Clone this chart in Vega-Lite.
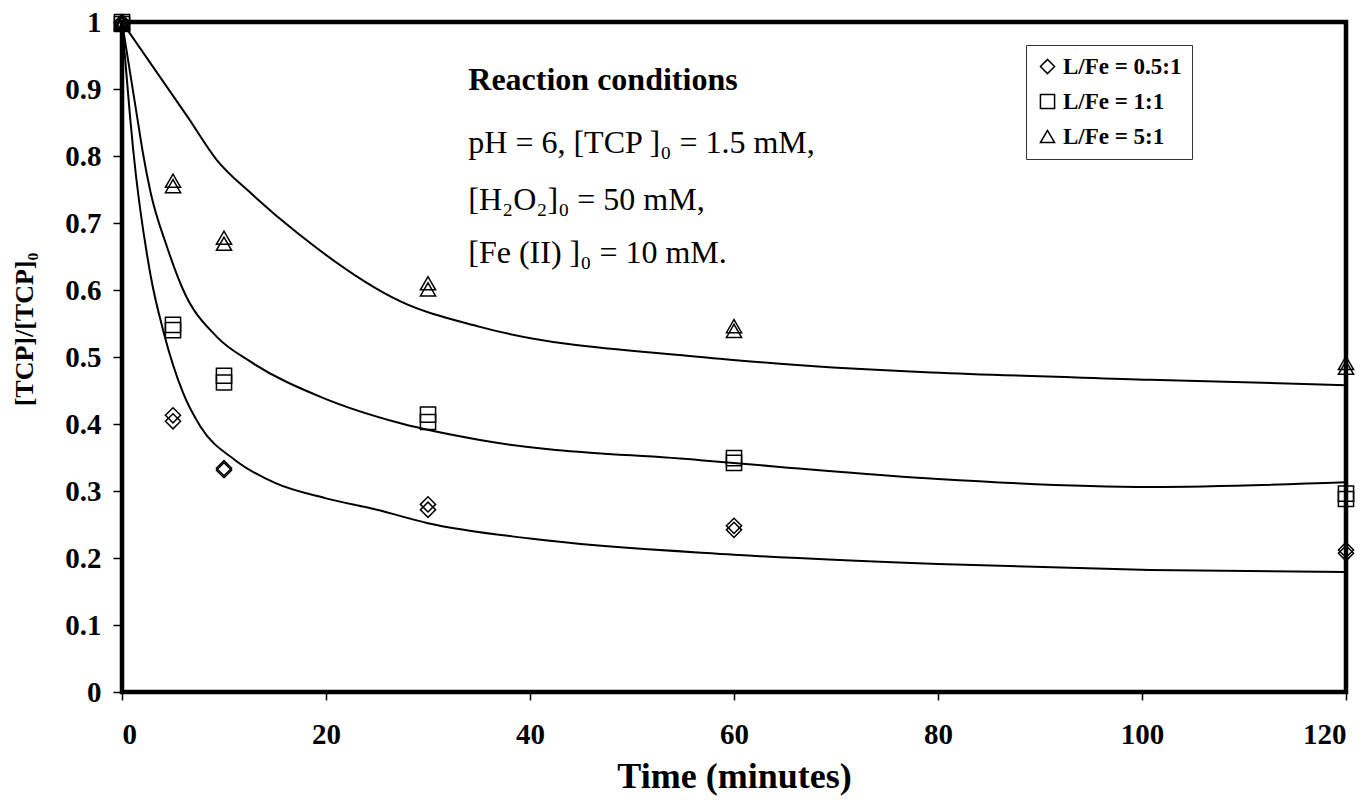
{
  "$schema": "https://vega.github.io/schema/vega-lite/v6.json",
  "width": 1224,
  "height": 670,
  "autosize": "none",
  "padding": {"left": 122, "top": 22, "right": 26, "bottom": 110},
  "background": "white",
  "config": {
    "view": {"stroke": "black", "strokeWidth": 4.5},
    "font": "Liberation Serif",
    "axis": {
      "domain": false,
      "grid": false,
      "tickColor": "black",
      "tickWidth": 1.5,
      "labelFont": "Liberation Serif",
      "labelFontWeight": "bold",
      "labelFontSize": 29,
      "labelColor": "black",
      "titleFont": "Liberation Serif",
      "titleFontWeight": "bold",
      "titleColor": "black"
    },
    "legend": {
      "orient": "none",
      "legendX": 904,
      "legendY": 23,
      "strokeColor": "#333333",
      "strokeWidth": 1,
      "fillColor": "white",
      "padding": 10,
      "labelFont": "Liberation Serif",
      "labelFontWeight": "bold",
      "labelFontSize": 23,
      "labelColor": "black",
      "labelOffset": 4,
      "symbolSize": 200,
      "symbolStrokeColor": "black",
      "symbolStrokeWidth": 1.5,
      "symbolFillColor": "transparent",
      "rowPadding": 11
    }
  },
  "datasets": {
    "points": [
      {"series": "L/Fe = 0.5:1", "t": 0, "v": 1.0},
      {"series": "L/Fe = 0.5:1", "t": 0, "v": 0.997},
      {"series": "L/Fe = 0.5:1", "t": 5, "v": 0.413},
      {"series": "L/Fe = 0.5:1", "t": 5, "v": 0.404},
      {"series": "L/Fe = 0.5:1", "t": 10, "v": 0.334},
      {"series": "L/Fe = 0.5:1", "t": 10, "v": 0.331},
      {"series": "L/Fe = 0.5:1", "t": 30, "v": 0.280},
      {"series": "L/Fe = 0.5:1", "t": 30, "v": 0.272},
      {"series": "L/Fe = 0.5:1", "t": 60, "v": 0.248},
      {"series": "L/Fe = 0.5:1", "t": 60, "v": 0.242},
      {"series": "L/Fe = 0.5:1", "t": 120, "v": 0.212},
      {"series": "L/Fe = 0.5:1", "t": 120, "v": 0.207},
      {"series": "L/Fe = 1:1", "t": 0, "v": 1.0},
      {"series": "L/Fe = 1:1", "t": 0, "v": 0.997},
      {"series": "L/Fe = 1:1", "t": 5, "v": 0.548},
      {"series": "L/Fe = 1:1", "t": 5, "v": 0.540},
      {"series": "L/Fe = 1:1", "t": 10, "v": 0.472},
      {"series": "L/Fe = 1:1", "t": 10, "v": 0.462},
      {"series": "L/Fe = 1:1", "t": 30, "v": 0.414},
      {"series": "L/Fe = 1:1", "t": 30, "v": 0.403},
      {"series": "L/Fe = 1:1", "t": 60, "v": 0.349},
      {"series": "L/Fe = 1:1", "t": 60, "v": 0.342},
      {"series": "L/Fe = 1:1", "t": 120, "v": 0.296},
      {"series": "L/Fe = 1:1", "t": 120, "v": 0.288},
      {"series": "L/Fe = 5:1", "t": 0, "v": 1.0},
      {"series": "L/Fe = 5:1", "t": 0, "v": 0.997},
      {"series": "L/Fe = 5:1", "t": 5, "v": 0.763},
      {"series": "L/Fe = 5:1", "t": 5, "v": 0.755},
      {"series": "L/Fe = 5:1", "t": 10, "v": 0.678},
      {"series": "L/Fe = 5:1", "t": 10, "v": 0.669},
      {"series": "L/Fe = 5:1", "t": 30, "v": 0.610},
      {"series": "L/Fe = 5:1", "t": 30, "v": 0.601},
      {"series": "L/Fe = 5:1", "t": 60, "v": 0.546},
      {"series": "L/Fe = 5:1", "t": 60, "v": 0.539},
      {"series": "L/Fe = 5:1", "t": 120, "v": 0.491},
      {"series": "L/Fe = 5:1", "t": 120, "v": 0.484}
    ],
    "curves": [
      {"series": "L/Fe = 0.5:1", "t": 0, "v": 1.0},
      {"series": "L/Fe = 0.5:1", "t": 0.8, "v": 0.857},
      {"series": "L/Fe = 0.5:1", "t": 1.1, "v": 0.809},
      {"series": "L/Fe = 0.5:1", "t": 2.8, "v": 0.622},
      {"series": "L/Fe = 0.5:1", "t": 4.1, "v": 0.536},
      {"series": "L/Fe = 0.5:1", "t": 6.0, "v": 0.446},
      {"series": "L/Fe = 0.5:1", "t": 7.7, "v": 0.396},
      {"series": "L/Fe = 0.5:1", "t": 11.1, "v": 0.346},
      {"series": "L/Fe = 0.5:1", "t": 15, "v": 0.312},
      {"series": "L/Fe = 0.5:1", "t": 20, "v": 0.289},
      {"series": "L/Fe = 0.5:1", "t": 25, "v": 0.272},
      {"series": "L/Fe = 0.5:1", "t": 30, "v": 0.252},
      {"series": "L/Fe = 0.5:1", "t": 40, "v": 0.229},
      {"series": "L/Fe = 0.5:1", "t": 60, "v": 0.205},
      {"series": "L/Fe = 0.5:1", "t": 80, "v": 0.191},
      {"series": "L/Fe = 0.5:1", "t": 100.8, "v": 0.182},
      {"series": "L/Fe = 0.5:1", "t": 120, "v": 0.179},
      {"series": "L/Fe = 1:1", "t": 0, "v": 1.0},
      {"series": "L/Fe = 1:1", "t": 1.5, "v": 0.857},
      {"series": "L/Fe = 1:1", "t": 2.0, "v": 0.809},
      {"series": "L/Fe = 1:1", "t": 2.8, "v": 0.746},
      {"series": "L/Fe = 1:1", "t": 4.4, "v": 0.665},
      {"series": "L/Fe = 1:1", "t": 6.0, "v": 0.600},
      {"series": "L/Fe = 1:1", "t": 9.3, "v": 0.530},
      {"series": "L/Fe = 1:1", "t": 12.6, "v": 0.493},
      {"series": "L/Fe = 1:1", "t": 19.7, "v": 0.439},
      {"series": "L/Fe = 1:1", "t": 27.3, "v": 0.401},
      {"series": "L/Fe = 1:1", "t": 35.1, "v": 0.376},
      {"series": "L/Fe = 1:1", "t": 56.7, "v": 0.346},
      {"series": "L/Fe = 1:1", "t": 64.5, "v": 0.336},
      {"series": "L/Fe = 1:1", "t": 80, "v": 0.318},
      {"series": "L/Fe = 1:1", "t": 100.8, "v": 0.306},
      {"series": "L/Fe = 1:1", "t": 120, "v": 0.313},
      {"series": "L/Fe = 5:1", "t": 0, "v": 1.0},
      {"series": "L/Fe = 5:1", "t": 6.5, "v": 0.857},
      {"series": "L/Fe = 5:1", "t": 9.3, "v": 0.794},
      {"series": "L/Fe = 5:1", "t": 12.6, "v": 0.745},
      {"series": "L/Fe = 5:1", "t": 17.2, "v": 0.685},
      {"series": "L/Fe = 5:1", "t": 27.3, "v": 0.583},
      {"series": "L/Fe = 5:1", "t": 35.1, "v": 0.545},
      {"series": "L/Fe = 5:1", "t": 56.7, "v": 0.500},
      {"series": "L/Fe = 5:1", "t": 64.5, "v": 0.490},
      {"series": "L/Fe = 5:1", "t": 100.8, "v": 0.466},
      {"series": "L/Fe = 5:1", "t": 120, "v": 0.458}
    ]
  },
  "layer": [
    {
      "data": {"name": "curves"},
      "mark": {"type": "line", "interpolate": "monotone", "stroke": "black", "strokeWidth": 2, "clip": true},
      "encoding": {
        "x": {
          "field": "t", "type": "quantitative",
          "scale": {"domain": [0, 120], "nice": false},
          "axis": {
            "values": [0, 20, 40, 60, 80, 100, 120],
            "tickSize": 8,
            "labelPadding": 20,
            "title": "Time (minutes)",
            "titleFontSize": 36,
            "titlePadding": 10
          }
        },
        "y": {
          "field": "v", "type": "quantitative",
          "scale": {"domain": [0, 1], "nice": false},
          "axis": {
            "values": [0, 0.1, 0.2, 0.3, 0.4, 0.5, 0.6, 0.7, 0.8, 0.9, 1],
            "format": ".1~f",
            "tickSize": 9,
            "labelPadding": 12,
            "title": "[TCP]/[TCP]₀",
            "titleFontSize": 26,
            "titleAngle": -90,
            "titleX": -98,
            "titleY": 307,
            "titleAlign": "center",
            "titleBaseline": "middle"
          }
        },
        "detail": {"field": "series", "type": "nominal"}
      }
    },
    {
      "data": {"name": "points"},
      "mark": {"type": "point", "filled": false, "stroke": "black", "strokeWidth": 1.5, "size": 230, "opacity": 1},
      "encoding": {
        "x": {"field": "t", "type": "quantitative"},
        "y": {"field": "v", "type": "quantitative"},
        "shape": {
          "field": "series", "type": "nominal",
          "scale": {"domain": ["L/Fe = 0.5:1", "L/Fe = 1:1", "L/Fe = 5:1"], "range": ["diamond", "square", "triangle-up"]},
          "legend": {"title": null}
        }
      }
    },
    {
      "data": {"values": [{"label": "Reaction conditions"}]},
      "mark": {"type": "text", "align": "left", "baseline": "alphabetic", "font": "Liberation Serif", "fontWeight": "bold", "fontSize": 32, "color": "black"},
      "encoding": {
        "x": {"datum": 33.95, "type": "quantitative"},
        "y": {"datum": 0.898, "type": "quantitative"},
        "text": {"field": "label"}
      }
    },
    {
      "data": {"values": [{"label": "pH = 6, [TCP ]₀ = 1.5 mM,"}]},
      "mark": {"type": "text", "align": "left", "baseline": "alphabetic", "font": "Liberation Serif", "fontSize": 32, "color": "black"},
      "encoding": {
        "x": {"datum": 33.95, "type": "quantitative"},
        "y": {"datum": 0.8045, "type": "quantitative"},
        "text": {"field": "label"}
      }
    },
    {
      "data": {"values": [{"label": "[H₂O₂]₀ = 50 mM,"}]},
      "mark": {"type": "text", "align": "left", "baseline": "alphabetic", "font": "Liberation Serif", "fontSize": 32, "color": "black"},
      "encoding": {
        "x": {"datum": 33.95, "type": "quantitative"},
        "y": {"datum": 0.7194, "type": "quantitative"},
        "text": {"field": "label"}
      }
    },
    {
      "data": {"values": [{"label": "[Fe (II) ]₀ = 10 mM."}]},
      "mark": {"type": "text", "align": "left", "baseline": "alphabetic", "font": "Liberation Serif", "fontSize": 32, "color": "black"},
      "encoding": {
        "x": {"datum": 33.95, "type": "quantitative"},
        "y": {"datum": 0.640, "type": "quantitative"},
        "text": {"field": "label"}
      }
    }
  ]
}
